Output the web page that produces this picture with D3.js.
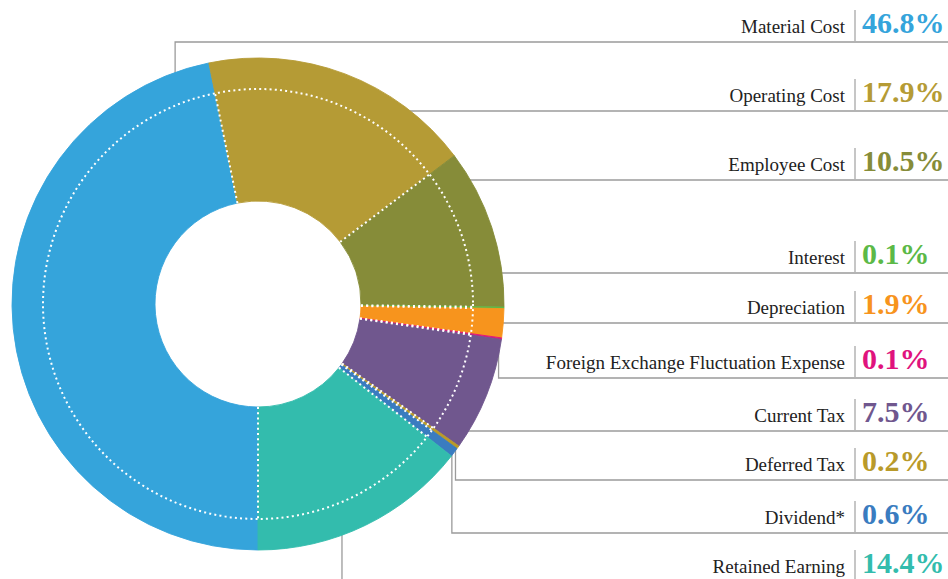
<!DOCTYPE html>
<html>
<head>
<meta charset="utf-8">
<script src="https://cdn.jsdelivr.net/npm/d3@7"></script>
<style>
  html, body { margin: 0; padding: 0; background: #ffffff; }
  svg { display: block; }
</style>
</head>
<body>
<script>
// ---- Data ----
const categories = [
  "Material Cost", "Operating Cost", "Employee Cost", "Interest", "Depreciation",
  "Foreign Exchange Fluctuation Expense", "Current Tax", "Deferred Tax", "Dividend*", "Retained Earning"
];
const values = [46.8, 17.9, 10.5, 0.1, 1.9, 0.1, 7.5, 0.2, 0.6, 14.4];
const percentLabels = ["46.8%", "17.9%", "10.5%", "0.1%", "1.9%", "0.1%", "7.5%", "0.2%", "0.6%", "14.4%"];
const colors = ["#35a4db", "#b59b35", "#868c39", "#5cb947", "#f7941d", "#e0137d", "#70578e", "#b99a2a", "#3a7cc0", "#33bcad"];

// ---- Layout (positions/styles) ----
const W = 948, H = 579;
const cx = 258, cy = 304;
const R = 246, Rin = 103, Rdot = 215;
const ruleY = [42, 111, 180, 273, 323, 378, 431, 480, 533, 582];
// leader mode: "h" = horizontal meeting the outer edge; "v" = vertical from anchor on slice
const leaderMode = ["v", "h", "h", "v", "v", "v", "h", "v", "v", "v"];
const anchorFrac = [0.95, 0.5, 0.5, 0.5, 0.5, 0.5, 0.5, 0.5, 0.5, 0.61];
const joinPrev = [false, false, false, false, false, true, false, true, false, false];
const sepX = 855, labelRight = 845, pctLeft = 862;

const svg = d3.select("body").append("svg").attr("width", W).attr("height", H);

const pie = d3.pie().sort(null).value(d => d).startAngle(Math.PI).endAngle(3 * Math.PI);
const arcs = pie(values);
const arc = d3.arc().innerRadius(Rin).outerRadius(R);

const pt = (a, r) => [cx + r * Math.sin(a), cy - r * Math.cos(a)];

// leaders (behind donut)
const leaders = svg.append("g").attr("fill", "none").attr("stroke", "#9b9b9b").attr("stroke-width", 1.3);
arcs.forEach((d, i) => {
  const y = ruleY[i];
  let p;
  if (leaderMode[i] === "h") {
    const dx = Math.sqrt(Math.max(0, (R - 3) * (R - 3) - (y - cy) * (y - cy)));
    p = d3.path(); p.moveTo(cx + dx, y); p.lineTo(W, y);
  } else {
    const a = d.startAngle + anchorFrac[i] * (d.endAngle - d.startAngle);
    const [x0, y0] = pt(a, R - 3);
    let ys = y0;
    if (joinPrev[i]) ys = Math.min(y0, ruleY[i - 1]);
    p = d3.path(); p.moveTo(x0, ys); p.lineTo(x0, y); p.lineTo(W, y);
  }
  leaders.append("path").attr("d", p.toString());
});

// donut
const g = svg.append("g").attr("transform", `translate(${cx},${cy})`);
g.selectAll("path.slice").data(arcs).join("path")
  .attr("class", "slice")
  .attr("d", arc)
  .attr("fill", (d, i) => colors[i])
  .attr("stroke", (d, i) => colors[i])
  .attr("stroke-width", 0.9);

// dotted white decorations
const dash = "2,3.2";
g.append("circle").attr("r", Rdot).attr("fill", "none")
  .attr("stroke", "#ffffff").attr("stroke-width", 2).attr("stroke-dasharray", dash);
g.selectAll("line.rad").data(arcs).join("line")
  .attr("class", "rad")
  .attr("x1", d => Rin * Math.sin(d.startAngle))
  .attr("y1", d => -Rin * Math.cos(d.startAngle))
  .attr("x2", d => Rdot * Math.sin(d.startAngle))
  .attr("y2", d => -Rdot * Math.cos(d.startAngle))
  .attr("stroke", "#ffffff").attr("stroke-width", 2).attr("stroke-dasharray", dash);

// labels
const lab = svg.append("g");
categories.forEach((c, i) => {
  const y = ruleY[i];
  lab.append("line").attr("x1", sepX).attr("x2", sepX).attr("y1", y - 32).attr("y2", y)
    .attr("stroke", "#b3b3b3").attr("stroke-width", 1.5);
  lab.append("text").attr("x", labelRight).attr("y", y - 9)
    .attr("text-anchor", "end")
    .attr("font-family", "'Liberation Serif', 'Times New Roman', serif")
    .attr("font-size", 19).attr("fill", "#222222")
    .text(c);
  lab.append("text").attr("x", pctLeft).attr("y", y - 9)
    .attr("font-family", "'Liberation Serif', 'Times New Roman', serif")
    .attr("font-size", 30).attr("font-weight", "bold").attr("fill", colors[i])
    .text(percentLabels[i]);
});
</script>
</body>
</html>
